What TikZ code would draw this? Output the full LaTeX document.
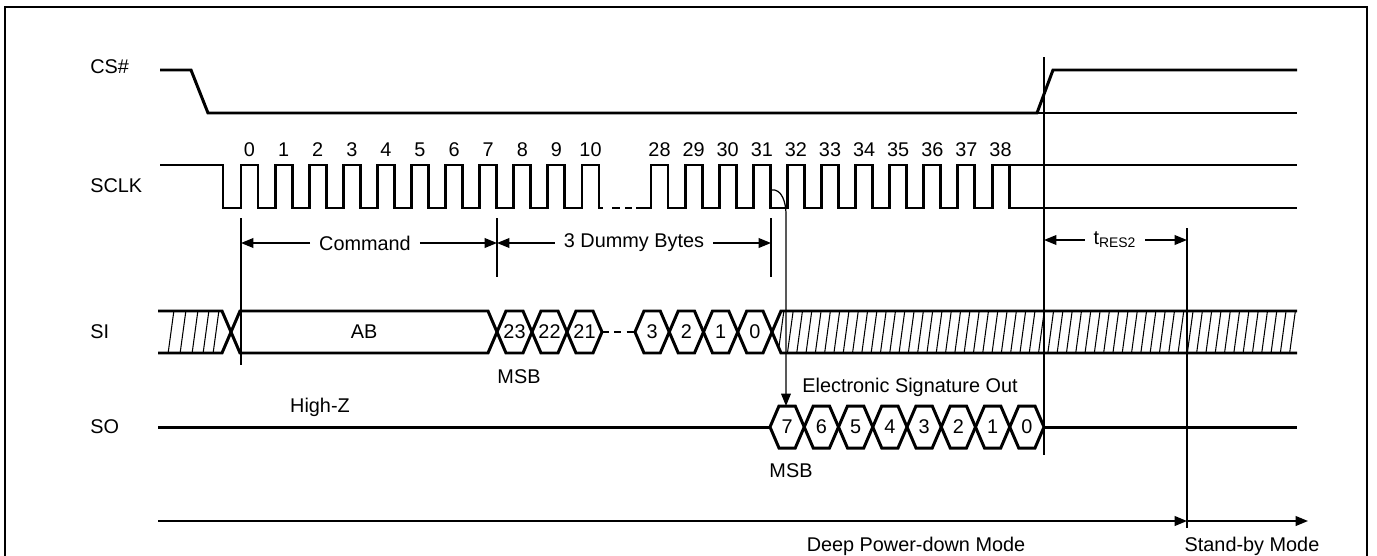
\documentclass[tikz,border=0pt]{standalone}
\usepackage{fontspec}
\setmainfont{Liberation Sans}
\usetikzlibrary{arrows.meta}
\newcommand\buscell[5]{%
  \draw[sig] ({#1},#3) -- ({#1+9},{#3-21}) -- ({#2-9},{#3-21}) -- ({#2},#3) -- ({#2-9},{#3+21}) -- ({#1+9},{#3+21}) -- cycle;
  \node[celltext] (#5) at ({(#1+#2)/2},#3) {#4};}
\begin{document}
\begin{tikzpicture}[x=0.02cm,y=-0.02cm,
  font=\fontsize{11.3}{13.5}\selectfont,
  sig/.style={line width=1.7pt, line join=miter},
  hatch/.style={line width=0.6pt},
  marker/.style={line width=0.6pt},
  dim/.style={line width=0.8pt},
  >={Triangle[length=7pt,width=5.5pt]},
  lbl/.style={inner xsep=5pt, inner ysep=1pt},
  celltext/.style={inner sep=0pt},
  signame/.style={anchor=west, inner sep=0pt},
  txt/.style={inner sep=0pt}]
\useasboundingbox (0,0) rectangle (1377,555);
\draw[line width=1pt] (5,556) -- (5,7) -- (1367,7) -- (1367,556);

% signal names
\node[signame] (ncs) at (90,67) {CS\#};
\node[signame] (nsclk) at (90,186) {SCLK};
\node[signame] (nsi) at (90,332) {SI};
\node[signame] (nso) at (90,427) {SO};

% CS#
\draw[sig] (160,70) -- (191,70) -- (208,113) -- (1037,113) -- (1053,70) -- (1297,70);
\draw[sig] (1037,113) -- (1297,113);

% SCLK
\draw[sig] (160,165) -- (223,165) -- (223,208) -- (241,208)
  \foreach \k in {0,...,9} { -- ++(0,-43) -- ++(17,0) -- ++(0,43) -- ++(17.1,0) }
  -- ++(0,-43) -- ++(17,0) -- ++(0,43) -- (603,208);
\draw[sig] (612,208) -- (620,208);
\draw[sig] (625,208) -- (632,208);
\draw[sig] (636,208) -- (651,208)
  \foreach \k in {28,...,37} { -- ++(0,-43) -- ++(17,0) -- ++(0,43) -- ++(17.1,0) }
  -- ++(0,-43) -- ++(17,0) -- ++(0,43) -- (1297,208);
\draw[sig] (1009,165) -- (1297,165);
\foreach \k in {0,...,10} \node[txt] (clk\k) at ({249.5+34.1*\k},150) {\k};
\foreach \k in {28,...,38} \node[txt] (clk\k) at ({659.5+34.1*(\k-28)},150) {\k};

% markers
\draw[marker] (241,218) -- (241,365);
\draw[marker] (497,218) -- (497,277);
\draw[marker] (771,218) -- (771,277);
\draw[marker] (1044,57) -- (1044,455);
\draw[marker] (1187,228) -- (1187,528);

% dimension arrows
\coordinate (cmdL) at (241,243);
\coordinate (cmdR) at (497,243);
\coordinate (dumR) at (771,243);
\coordinate (resL) at (1044,240);
\coordinate (resR) at (1187,240);
\node[lbl] (cmd) at (365,243) {Command};
\node[lbl] (dum) at (634,243) {3 Dummy Bytes};
\node[lbl] (res) at (1115,240) {t\textsubscript{RES2}};
\draw[dim,->] (cmd) -- (cmdL);
\draw[dim,->] (cmd) -- (cmdR);
\draw[dim,->] (dum) -- (cmdR);
\draw[dim,->] (dum) -- (dumR);
\draw[dim,->] (res) -- (resL);
\draw[dim,->] (res) -- (resR);

% SI left hatch
\begin{scope}
  \clip (158,311) -- (222,311) -- (231,332) -- (222,353) -- (158,353) -- cycle;
  \foreach \x in {168,180,192,203,213} \draw[hatch] (\x,354) -- ({\x+6},310);
\end{scope}
\draw[sig] (158,311) -- (222,311) -- (231,332) -- (222,353) -- (158,353);
% SI cells
\buscell{231}{497}{332}{AB}{ab}
\buscell{497}{532}{332}{23}{si23}
\buscell{532}{567}{332}{22}{si22}
\buscell{567}{602}{332}{21}{si21}
\draw[sig, dash pattern=on 4pt off 3pt] (602,332) -- (635,332);
\buscell{635}{669.25}{332}{3}{si3}
\buscell{669.25}{703.5}{332}{2}{si2}
\buscell{703.5}{737.75}{332}{1}{si1}
\buscell{737.75}{772}{332}{0}{si0}
% SI right hatch
\begin{scope}
  \clip (1300,311) -- (781,311) -- (772,332) -- (781,353) -- (1300,353) -- cycle;
  \foreach \i in {0,...,55} \draw[hatch] ({778+9.3*\i},354) -- ({784+9.3*\i},310);
\end{scope}
\draw[sig] (1297,311) -- (781,311) -- (772,332) -- (781,353) -- (1297,353);

% SO
\draw[sig] (158,427) -- (770,427);
\foreach \t/\i in {7/0,6/1,5/2,4/3,3/4,2/5,1/6,0/7}
  \buscell{770+34.25*\i}{770+34.25*(\i+1)}{427}{\t}{so\t}
\draw[sig] (1044,427) -- (1297,427);

% SCLK 31 to SO arrow
\coordinate (c31) at (771,190);
\coordinate (so7top) at (786,406);
\draw[line width=0.7pt,->] (c31) to[out=10,in=90] (786,214) -- (so7top);

% texts
\node[txt] (msb1) at (519,377) {MSB};
\node[txt] (msb2) at (791,471) {MSB};
\node[txt] (hiz) at (320,407) {High-Z};
\node[txt] (eso) at (910,387) {Electronic Signature Out};

% bottom mode arrows
\coordinate (b0) at (158,521);
\coordinate (b1) at (1187,521);
\coordinate (b2) at (1308,521);
\draw[line width=1pt,->] (b0) -- (b1);
\draw[line width=1pt,->] (b1) -- (b2);
\node[txt] (dpd) at (916,546) {Deep Power-down Mode};
\node[txt] (sbm) at (1252,546) {Stand-by Mode};
\end{tikzpicture}
\end{document}
